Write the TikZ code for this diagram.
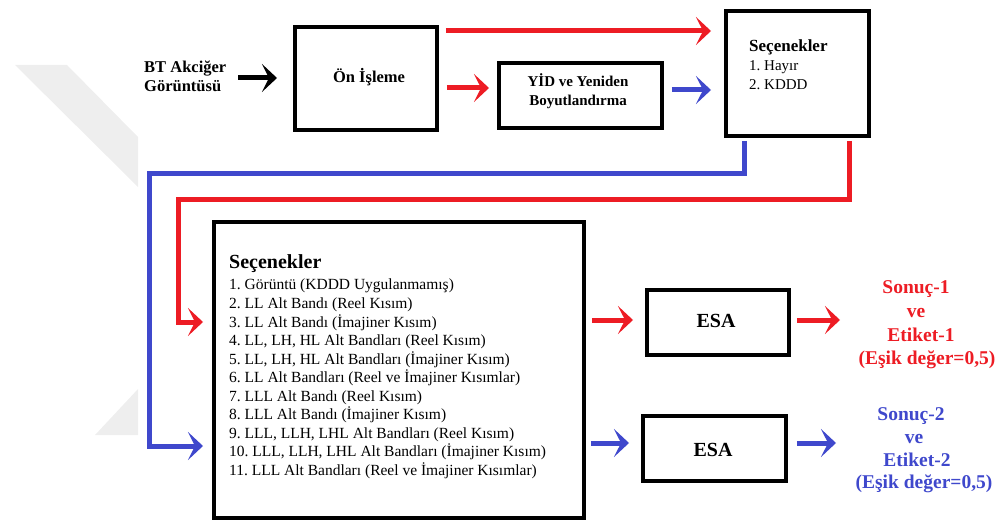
\documentclass[tikz,border=0pt]{standalone}
\usepackage{fontspec}
\setmainfont{Liberation Serif}
\usetikzlibrary{arrows.meta}
\definecolor{flowred}{RGB}{237,28,36}
\definecolor{flowblue}{RGB}{63,72,204}
\definecolor{markgray}{RGB}{238,238,238}
\frenchspacing
\begin{document}
\begin{tikzpicture}[x=1pt,y=-1pt,
  box/.style={draw=black,line width=3.8pt,inner sep=0pt,anchor=north west},
  flow/.style={line width=5pt,-{Stealth[length=15pt,width=28pt,inset=7pt]}},
  redflow/.style={flow,draw=flowred},
  blueflow/.style={flow,draw=flowblue},
  blackflow/.style={flow,draw=black},
  label/.style={inner sep=0pt,anchor=base},
  leftlabel/.style={inner sep=0pt,anchor=base west},
  bigfont/.style={font=\fontsize{20}{24}\selectfont\bfseries},
  resfont/.style={font=\fontsize{19.5}{23}\selectfont\bfseries},
  itemfont/.style={font=\fontsize{15.5}{18.5}\selectfont}]
\useasboundingbox (0,0) rectangle (998,521);

% faint background mark
\fill[markgray] (15,65) -- (67,65) -- (138,137) -- (138,187) -- cycle;
\fill[markgray] (95,435) -- (138,389) -- (138,435) -- cycle;

% input text
\node[leftlabel,font=\fontsize{16.5}{19}\selectfont\bfseries] (bt1) at (144,73) {BT Akciğer};
\node[leftlabel,font=\fontsize{16.5}{19}\selectfont\bfseries] (bt2) at (144,92) {Görüntüsü};

% processing boxes
\node[box,minimum width=142pt,minimum height=103pt] (pre) at (293,25) {};
\node[label,font=\fontsize{16.5}{20}\selectfont\bfseries] (pretxt) at (369,83) {Ön İşleme};

\node[box,minimum width=163pt,minimum height=65pt] (yid) at (497,61) {};
\node[label,font=\fontsize{15}{19}\selectfont\bfseries] (yid1) at (578,87) {YİD ve Yeniden};
\node[label,font=\fontsize{15}{19}\selectfont\bfseries] (yid2) at (578,106) {Boyutlandırma};

\node[box,minimum width=143pt,minimum height=125pt] (opt) at (724,9) {};
\node[leftlabel,font=\fontsize{17}{19}\selectfont\bfseries] (opt0) at (749,52) {Seçenekler};
\node[leftlabel,font=\fontsize{15}{19}\selectfont] (opt1) at (749,71) {1. Hayır};
\node[leftlabel,font=\fontsize{15}{19}\selectfont] (opt2) at (749,90) {2. KDDD};

% option list box
\node[box,minimum width=370pt,minimum height=296pt] (big) at (212,220) {};
\node[leftlabel,bigfont] (bigtitle) at (229,269) {Seçenekler};
\foreach \t [count=\i from 0] in {%
  {1. Görüntü (KDDD Uygulanmamış)},
  {2. LL Alt Bandı (Reel Kısım)},
  {3. LL Alt Bandı (İmajiner Kısım)},
  {4. LL, LH, HL Alt Bandları (Reel Kısım)},
  {5. LL, LH, HL Alt Bandları (İmajiner Kısım)},
  {6. LL Alt Bandları (Reel ve İmajiner Kısımlar)},
  {7. LLL Alt Bandı (Reel Kısım)},
  {8. LLL Alt Bandı (İmajiner Kısım)},
  {9. LLL, LLH, LHL Alt Bandları (Reel Kısım)},
  {10. LLL, LLH, LHL Alt Bandları (İmajiner Kısım)},
  {11. LLL Alt Bandları (Reel ve İmajiner Kısımlar)}}
  \node[leftlabel,itemfont] (item\i) at (229,{290+18.5*\i}) {\t};

% classifiers
\node[box,minimum width=142pt,minimum height=65pt] (esa1) at (645,288) {};
\node[label,bigfont] (esa1txt) at (716,327) {ESA};
\node[box,minimum width=143pt,minimum height=65pt] (esa2) at (641,414) {};
\node[label,bigfont] (esa2txt) at (713,456) {ESA};

% results
\node[label,resfont,text=flowred] (r1a) at (916,294) {Sonuç-1};
\node[label,resfont,text=flowred] (r1b) at (916,317.5) {ve};
\node[label,resfont,text=flowred] (r1c) at (921,341) {Etiket-1};
\node[label,resfont,text=flowred] (r1d) at (927,364.5) {(Eşik değer=0,5)};
\node[label,resfont,text=flowblue] (r2a) at (911,420) {Sonuç-2};
\node[label,resfont,text=flowblue] (r2b) at (914,443) {ve};
\node[label,resfont,text=flowblue] (r2c) at (917,466) {Etiket-2};
\node[label,resfont,text=flowblue] (r2d) at (924,488) {(Eşik değer=0,5)};

% connectors
\draw[blackflow] (bt1.east |- 0,78) ++(12,0) -- ([xshift=-16pt]pre.west |- 0,78);
\draw[redflow] ([xshift=7pt]pre.east |- 0,31) -- ([xshift=-13pt]opt.west |- 0,31);
\draw[redflow] ([xshift=8pt]pre.east |- 0,88) -- ([xshift=-8pt]yid.west |- 0,88);
\draw[blueflow] ([xshift=8pt]yid.east |- 0,90) -- ([xshift=-13pt]opt.west |- 0,90);

\draw[blueflow] ([xshift=20pt,yshift=-3pt]opt.south west) |- (149,174) |- ([xshift=-9pt]big.west |- 0,446);
\draw[redflow] ([xshift=-21pt,yshift=-3pt]opt.south east) |- (178,200) |- ([xshift=-9pt]big.west |- 0,322);

\draw[redflow] ([xshift=6pt]big.east |- 0,320) -- ([xshift=-12pt]esa1.west |- 0,320);
\draw[redflow] ([xshift=6pt]esa1.east |- 0,320) -- (840,320);
\draw[blueflow] ([xshift=5pt]big.east |- 0,443) -- ([xshift=-12pt]esa2.west |- 0,443);
\draw[blueflow] ([xshift=9pt]esa2.east |- 0,443) -- (836,443);
\end{tikzpicture}
\end{document}
